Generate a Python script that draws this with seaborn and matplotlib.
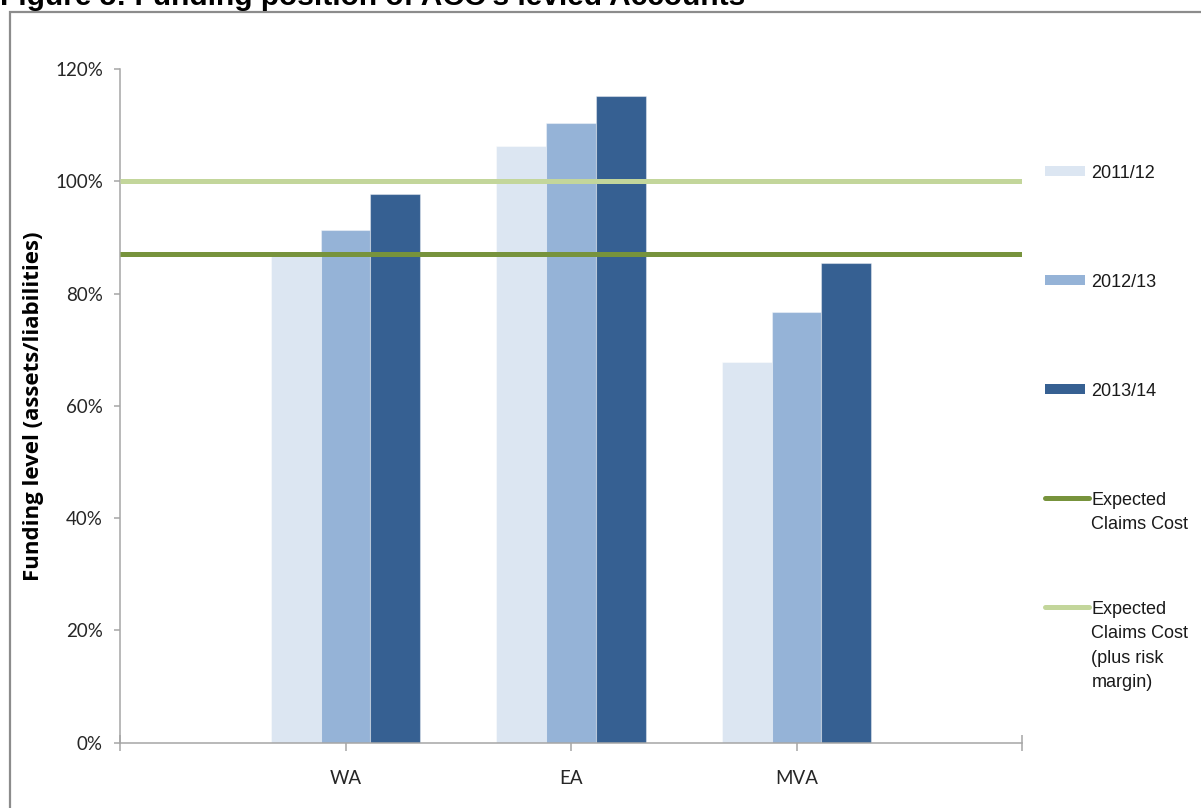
import matplotlib
matplotlib.use('Agg')
import matplotlib.pyplot as plt
import seaborn as sns
import pandas as pd
from matplotlib.patches import Rectangle, Patch
from matplotlib.lines import Line2D
from matplotlib.legend_handler import HandlerBase
from matplotlib.ticker import FixedLocator, FuncFormatter

# ---------------- data ----------------
accounts = ['WA', 'EA', 'MVA']
years = ['2011/12', '2012/13', '2013/14']
level_2011_12 = [0.868, 1.064, 0.678]
level_2012_13 = [0.913, 1.104, 0.767]
level_2013_14 = [0.977, 1.152, 0.854]
expected_claims_cost = 0.87
expected_claims_cost_risk = 1.00
line_labels = ['Expected\nClaims Cost', 'Expected\nClaims Cost\n(plus risk\nmargin)']
y_ticks = [0.0, 0.2, 0.4, 0.6, 0.8, 1.0, 1.2]
title = "Figure 5: Funding position of ACC's levied Accounts"
y_label = 'Funding level (assets/liabilities)'

# ---------------- styles ----------------
bar_colors = ['#DCE6F2', '#95B3D7', '#366092']
dark_green = '#77933C'
light_green = '#C3D69B'
axis_grey = '#A6A6A6'
text_dark = '#262626'

df = pd.DataFrame({
    'account': accounts * 3,
    'year': [years[0]] * 3 + [years[1]] * 3 + [years[2]] * 3,
    'level': level_2011_12 + level_2012_13 + level_2013_14,
})

sns.set_theme(style='white')
plt.rcParams['font.family'] = ['Lato', 'DejaVu Sans']

W, H = 1201, 808
fig = plt.figure(figsize=(W / 100, H / 100), dpi=100)
ax = fig.add_axes([120 / W, 1 - 742.5 / H, (1022 - 120) / W, (742.5 - 69.3) / H])

sns.barplot(data=df, x='account', y='level', hue='year', order=accounts,
            hue_order=years, palette=dict(zip(years, bar_colors)),
            saturation=1, width=0.665, gap=0, errorbar=None, legend=False,
            edgecolor=(1, 1, 1, 0.4), linewidth=0.8, ax=ax, zorder=2)

l_dark = ax.axhline(expected_claims_cost, color=dark_green, lw=3.6, zorder=4,
                    solid_capstyle='butt')
l_light = ax.axhline(expected_claims_cost_risk, color=light_green, lw=3.6, zorder=4,
                     solid_capstyle='butt')

ax.set_ylim(0, 1.2)
ax.set_xlim(-1, len(accounts))
ax.yaxis.set_major_locator(FixedLocator(y_ticks))
ax.yaxis.set_major_formatter(FuncFormatter(lambda v, p: f'{v * 100:.0f}%'))
ax.set_xticks(list(range(-1, len(accounts) + 1)))
ax.set_xticklabels([''] + accounts + [''])
ax.set_xlabel('')
ax.set_ylabel(y_label, fontsize=16, fontweight='bold', color='black',
              family=['Open Sans', 'DejaVu Sans'])
ax.yaxis.set_label_coords((44 - 120) / (1022 - 120), 0.5)

for s in ['top', 'right']:
    ax.spines[s].set_visible(False)
for s in ['left', 'bottom']:
    ax.spines[s].set_color(axis_grey)
    ax.spines[s].set_linewidth(1.1)

ax.tick_params(axis='y', direction='out', length=4.3, width=1.1, color=axis_grey,
               pad=8, labelsize=13.5, labelcolor=text_dark, left=True)
ax.tick_params(axis='x', direction='inout', length=12, width=1.1, color=axis_grey,
               pad=14, labelsize=13.5, labelcolor=text_dark, bottom=True)
ax.grid(False)


# ---------------- legend ----------------
class RaisedHandler(HandlerBase):
    def __init__(self, dy_pts, kind):
        super().__init__()
        self.dy = dy_pts
        self.kind = kind

    def create_artists(self, legend, orig_handle, xdescent, ydescent, width,
                       height, fontsize, trans):
        yc = -ydescent + height / 2 + self.dy
        if self.kind == 'patch':
            h = 0.56 * fontsize
            art = Rectangle((-xdescent, yc - h / 2), width * 0.9, h,
                            facecolor=orig_handle.get_facecolor(),
                            edgecolor='none', transform=trans)
        else:
            art = Line2D([-xdescent, -xdescent + width], [yc, yc],
                         color=orig_handle.get_color(),
                         lw=orig_handle.get_linewidth(),
                         solid_capstyle='round', transform=trans)
        return [art]


def pad_lines(s, n=4):
    k = s.count('\n') + 1
    return s + '\n' * (n - k)


shift = 28.3

handles = [Patch(facecolor=c) for c in bar_colors] + [l_dark, l_light]
labels = [pad_lines(y) for y in years] + [pad_lines(l) for l in line_labels]
hmap = {h: RaisedHandler(shift, 'patch' if isinstance(h, Patch) else 'line')
        for h in handles}

leg = fig.legend(handles, labels, handler_map=hmap, loc='upper left',
                 bbox_to_anchor=(1045 / W, 1 - 165 / H), frameon=False,
                 borderpad=0, borderaxespad=0, handlelength=2.45,
                 handletextpad=0.12, labelspacing=1.04,
                 prop=dict(family=['Liberation Sans'], size=13))
for t in leg.get_texts():
    t.set_linespacing(1.57)
    t.set_color('#1a1a1a')

# ---------------- title and frame ----------------
fig.text(0, 1 - 5 / H, title, fontsize=21.5, fontweight='bold', color='black',
         family=['Liberation Sans', 'DejaVu Sans'], ha='left', va='baseline')
fig.patches.append(Rectangle((9.5 / W, -0.1), 1.5, 1.1 - 12.5 / H,
                             transform=fig.transFigure, fill=False,
                             edgecolor='#8C8C8C', linewidth=1.6))

fig.savefig('out.png', dpi=100)
